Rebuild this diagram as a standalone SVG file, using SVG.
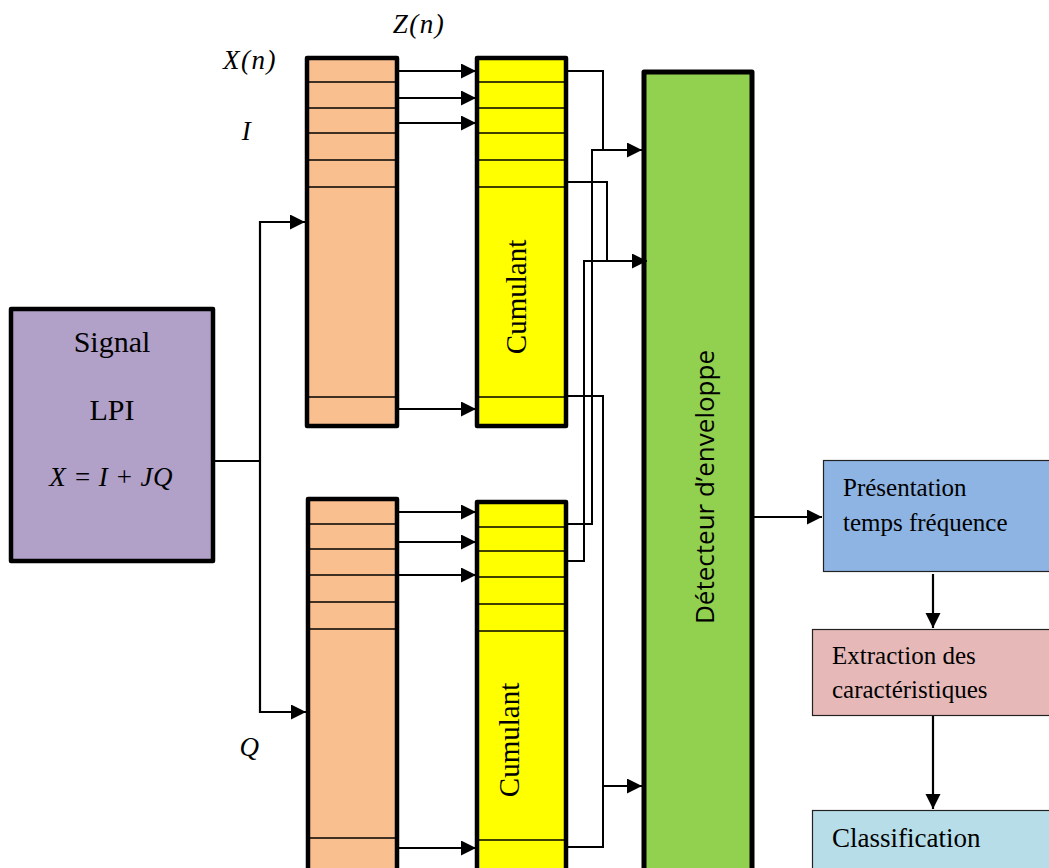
<svg xmlns="http://www.w3.org/2000/svg" width="1049" height="868" viewBox="0 0 1049 868">
  <style>
    .serif { font-family: "Liberation Serif", "Times New Roman", serif; fill: #000; }
    .math { font-family: "Liberation Serif", "Times New Roman", serif; font-style: italic; font-size: 27px; letter-spacing: 1.5px; fill: #000; }
    .sans { font-family: "Open Sans", "Liberation Sans", sans-serif; fill: #000; }
    .thick { stroke: #000; stroke-width: 4.5; stroke-linejoin: round; }
    .div { stroke: #000; stroke-width: 1.6; }
    .wire { fill: none; stroke: #000; stroke-width: 2; }
    .arrow { fill: none; stroke: #000; stroke-width: 2.2; marker-end: url(#head); }
  </style>
  <defs>
    <marker id="head" markerUnits="userSpaceOnUse" markerWidth="16" markerHeight="16" refX="15" refY="7.5" orient="auto">
      <path d="M0,0 L15,7.5 L0,15 z" fill="#000"/>
    </marker>
  </defs>

  <rect width="1049" height="868" fill="#fff"/>

  <!-- Labels -->
  <g id="labels">
    <text class="math" x="419" y="33" text-anchor="middle">Z(n)</text>
    <text class="math" x="250" y="69" text-anchor="middle">X(n)</text>
    <text class="math" x="247" y="140" text-anchor="middle">I</text>
    <text class="math" x="250" y="756" text-anchor="middle">Q</text>
  </g>

  <!-- Source signal -->
  <g id="signal">
    <rect x="11" y="309" width="202" height="252" fill="#B1A0C7" class="thick"/>
    <text class="serif" x="112" y="352" font-size="30" text-anchor="middle">Signal</text>
    <text class="serif" x="112" y="420" font-size="30" text-anchor="middle">LPI</text>
    <text class="math" x="111" y="486" style="letter-spacing:0.3px" text-anchor="middle">X = I + JQ</text>
  </g>

  <!-- I channel register -->
  <g id="reg-i">
    <rect x="307" y="58" width="90" height="368" fill="#F9BF8F" class="thick"/>
    <line class="div" x1="309" y1="82" x2="395" y2="82"/>
    <line class="div" x1="309" y1="108" x2="395" y2="108"/>
    <line class="div" x1="309" y1="133" x2="395" y2="133"/>
    <line class="div" x1="309" y1="160" x2="395" y2="160"/>
    <line class="div" x1="309" y1="187" x2="395" y2="187"/>
    <line class="div" x1="309" y1="397" x2="395" y2="397"/>
  </g>

  <!-- I channel cumulant -->
  <g id="cum-i">
    <rect x="477" y="58" width="89" height="368" fill="#FFFF00" class="thick"/>
    <line class="div" x1="479" y1="82" x2="564" y2="82"/>
    <line class="div" x1="479" y1="108" x2="564" y2="108"/>
    <line class="div" x1="479" y1="133" x2="564" y2="133"/>
    <line class="div" x1="479" y1="160" x2="564" y2="160"/>
    <line class="div" x1="479" y1="187" x2="564" y2="187"/>
    <line class="div" x1="479" y1="397" x2="564" y2="397"/>
    <text class="serif" font-size="29" text-anchor="middle" dominant-baseline="central" transform="translate(516,297) rotate(-90)">Cumulant</text>
  </g>

  <!-- Q channel register -->
  <g id="reg-q">
    <rect x="308" y="499" width="89" height="380" fill="#F9BF8F" class="thick"/>
    <line class="div" x1="310" y1="524" x2="395" y2="524"/>
    <line class="div" x1="310" y1="549" x2="395" y2="549"/>
    <line class="div" x1="310" y1="575" x2="395" y2="575"/>
    <line class="div" x1="310" y1="602" x2="395" y2="602"/>
    <line class="div" x1="310" y1="629" x2="395" y2="629"/>
    <line class="div" x1="310" y1="838" x2="395" y2="838"/>
  </g>

  <!-- Q channel cumulant -->
  <g id="cum-q">
    <rect x="477" y="502" width="89" height="377" fill="#FFFF00" class="thick"/>
    <line class="div" x1="479" y1="527" x2="564" y2="527"/>
    <line class="div" x1="479" y1="551" x2="564" y2="551"/>
    <line class="div" x1="479" y1="577" x2="564" y2="577"/>
    <line class="div" x1="479" y1="604" x2="564" y2="604"/>
    <line class="div" x1="479" y1="631" x2="564" y2="631"/>
    <line class="div" x1="479" y1="840" x2="564" y2="840"/>
    <text class="serif" font-size="29" text-anchor="middle" dominant-baseline="central" transform="translate(509,740) rotate(-90)">Cumulant</text>
  </g>

  <!-- Envelope detector -->
  <g id="detector">
    <rect x="644" y="72" width="108" height="810" fill="#92D050" stroke="#000" stroke-width="5" stroke-linejoin="round"/>
    <text class="sans" font-size="26" text-anchor="middle" dominant-baseline="central" transform="translate(704,487) rotate(-90)">Détecteur d’enveloppe</text>
  </g>

  <!-- Processing chain -->
  <g id="tf">
    <rect x="823.5" y="460.5" width="240" height="111" fill="#8EB4E3" stroke="#222" stroke-width="1.2"/>
    <text class="serif" x="843" y="496" font-size="25">Présentation</text>
    <text class="serif" x="843" y="531" font-size="25">temps fréquence</text>
  </g>
  <g id="features">
    <rect x="812.5" y="629.5" width="250" height="86" fill="#E6B9B8" stroke="#222" stroke-width="1.2"/>
    <text class="serif" x="832" y="664" font-size="25">Extraction des</text>
    <text class="serif" x="832" y="698" font-size="25">caractéristiques</text>
  </g>
  <g id="classif">
    <rect x="812.5" y="810.5" width="250" height="80" fill="#B7DEE8" stroke="#222" stroke-width="1.2"/>
    <text class="serif" x="832" y="847" font-size="27">Classification</text>
  </g>

  <!-- Connectors -->
  <g id="connectors">
    <!-- signal split into I and Q -->
    <polyline class="wire" points="213,461 260,461"/>
    <polyline class="arrow" points="260,461 260,222 305,222"/>
    <polyline class="arrow" points="260,461 260,712 306,712"/>

    <!-- register to cumulant, I -->
    <line class="arrow" x1="398" y1="71" x2="476" y2="71"/>
    <line class="arrow" x1="398" y1="98" x2="476" y2="98"/>
    <line class="arrow" x1="398" y1="123" x2="476" y2="123"/>
    <line class="arrow" x1="398" y1="409" x2="476" y2="409"/>

    <!-- register to cumulant, Q -->
    <line class="arrow" x1="398" y1="512" x2="476" y2="512"/>
    <line class="arrow" x1="398" y1="542" x2="476" y2="542"/>
    <line class="arrow" x1="398" y1="575" x2="476" y2="575"/>
    <line class="arrow" x1="398" y1="848" x2="476" y2="848"/>

    <!-- cumulants to detector -->
    <polyline class="wire" points="567,71 603,71 603,150"/>
    <polyline class="wire" points="567,524 592,524 592,150 603,150"/>
    <line class="arrow" x1="603" y1="150" x2="642" y2="150"/>

    <polyline class="wire" points="567,182 607,182 607,261"/>
    <polyline class="wire" points="567,561 584,561 584,261 607,261"/>
    <line class="arrow" x1="607" y1="261" x2="647" y2="261"/>

    <polyline class="wire" points="567,396 603,396 603,786"/>
    <polyline class="wire" points="567,847 603,847 603,786"/>
    <line class="arrow" x1="603" y1="786" x2="642" y2="786"/>

    <!-- detector to processing chain -->
    <line class="arrow" x1="754" y1="517" x2="822" y2="517"/>
    <line class="arrow" x1="933" y1="574" x2="933" y2="628"/>
    <line class="arrow" x1="933" y1="716" x2="933" y2="809"/>
  </g>
</svg>
